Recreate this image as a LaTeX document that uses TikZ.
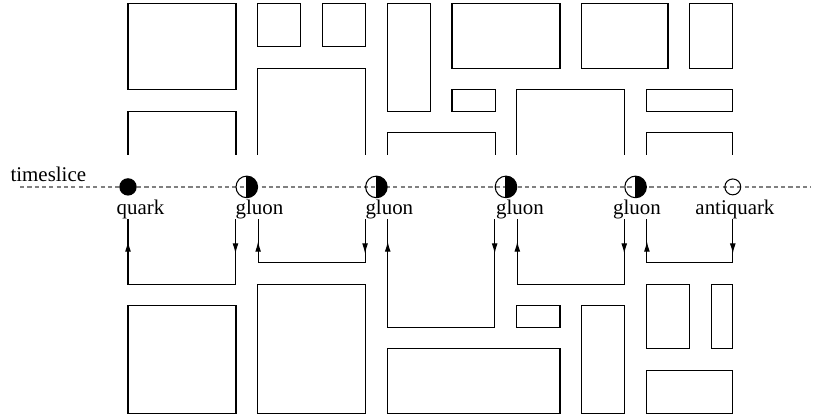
\documentclass[tikz,border=0pt]{standalone}
\usepackage{fontspec}
\setmainfont{Liberation Serif}
\usetikzlibrary{arrows.meta, decorations.markings}

\begin{document}
\begin{tikzpicture}[x=10.33pt, y=10.33pt, line width=0.5pt,
  qdot/.style={circle, draw, fill=black, inner sep=0pt, minimum size=7.8pt},
  aqdot/.style={circle, draw, inner sep=0pt, minimum size=7.6pt},
  gdot/.style={circle, draw, inner sep=0pt, minimum size=10.33pt,
    path picture={\fill (path picture bounding box.north) rectangle (path picture bounding box.south east);
      \draw (path picture bounding box.north) -- (path picture bounding box.south);}},
  lbl/.style={anchor=base, inner sep=0pt},
  colorline/.style={postaction={decorate}, decoration={markings,
    mark=at position 16.5pt with {\arrow{Latex[length=5pt,width=2.8pt]}},
    mark=at position -10.5pt with {\arrow{Latex[length=5pt,width=2.8pt]}}}},
  slice/.style={gray, line width=0.6pt, dash pattern=on 2pt off 1.5pt}]
\useasboundingbox (-5.926,0.153) rectangle (31.76,-19.06);
% plaquettes
\foreach \xa/\ya/\xb/\yb in {0/0/5/4, 6/0/8/2, 9/0/11/2, 12/0/14/5, 15/0/20/3, 21/0/25/3,
  26/0/28/3, 15/4/17/5, 24/4/28/5, 0/14/5/19, 6/13/11/19, 12/16/20/19, 18/14/20/15,
  21/14/23/19, 24/13/26/16, 27/13/28/16, 24/17/28/19}
  \draw (\xa,-\ya) rectangle (\xb,-\yb);
% plaquettes cut by the timeslice
\foreach \xa/\ya/\xb in {0/5/5, 6/3/11, 12/6/17, 18/4/23, 24/6/28}
  \draw (\xa,-7) |- (\xb,-\ya) -- (\xb,-7);
% the timeslice
\coordinate (sl) at (-5,-8.5);
\coordinate (sr) at (31.6,-8.5);
\draw[slice] (sl) -- (sr);
\node[lbl, anchor=base west] (lts) at (-5.46,-8.27) {timeslice};
% particles on the timeslice
\node[qdot] (q) at (0,-8.5) {};
\foreach \i/\x in {1/5.5, 2/11.5, 3/17.5, 4/23.5}
  \node[gdot] (g\i) at (\x,-8.5) {};
\node[aqdot] (aq) at (28,-8.5) {};
\node[lbl] (lq) at (0.58,-9.8) {quark};
\foreach \i/\x in {1/6.09, 2/12.1, 3/18.15, 4/23.56}
  \node[lbl] (lg\i) at (\x,-9.8) {gluon};
\node[lbl] (laq) at (28.1,-9.8) {antiquark};
% colour lines
\coordinate (top) at (0,-10);
\foreach \a/\b/\d in {g1.west/q/13, g2.west/g1.east/12, g3.west/g2.east/15,
  g4.west/g3.east/13, aq/g4.east/12}
  \draw[colorline] (\a |- top) -- (\a |- 0,-\d) -- (\b |- 0,-\d) -- (\b |- top);
\end{tikzpicture}
\end{document}
